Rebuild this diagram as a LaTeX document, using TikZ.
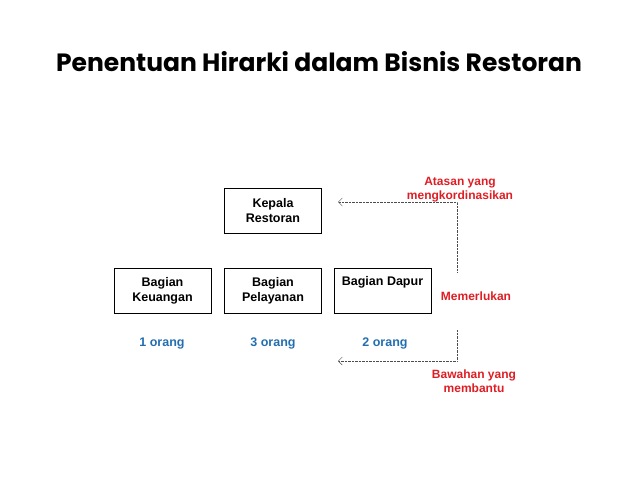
\documentclass[tikz,border=0pt]{standalone}
\usepackage{fontspec}
\setmainfont{Liberation Sans}
\newfontfamily\titlefont{Poppins}
\usetikzlibrary{arrows.meta}
\definecolor{labelred}{RGB}{222,30,36}
\definecolor{labelblue}{RGB}{35,110,175}
\tikzset{
	unit/.style={draw, semithick, minimum width=97pt, minimum height=45pt, align=center, font=\bfseries\fontsize{12.5}{15}\selectfont},
	unittext/.style={align=center, inner sep=0pt, font=\bfseries\fontsize{12.5}{15}\selectfont},
	note/.style={text=labelred, align=center, font=\bfseries\fontsize{12}{14}\selectfont},
	count/.style={text=labelblue, text height=9pt, text depth=3pt, font=\bfseries\fontsize{12.5}{14}\selectfont},
	link/.style={densely dotted, black!70, -{Straight Barb[length=4pt,width=8pt]}}
}
\begin{document}
\begin{tikzpicture}[x=1pt, y=-1pt]
		\useasboundingbox (0,0) rectangle (638,479);
		\node[font=\titlefont\bfseries\fontsize{25}{30}\selectfont] (title) at (319,62) {Penentuan Hirarki dalam Bisnis Restoran};
	
		\node[unit] (kepala) at (273,210.5) {Kepala\\Restoran};
		\node[unit] (keuangan) at (162.5,291) {Bagian\\Keuangan};
		\node[unit] (pelayanan) at (273,291) {Bagian\\Pelayanan};
		\node[unit, text height=0pt] (dapur) at (382.5,291) {};
		\node[unittext, anchor=north] (dapurtext) at (382.5,276) {Bagian Dapur};
		
		\node[count] (satu) at (162,343) {1 orang};
		\node[count] (tiga) at (273,343) {3 orang};
		\node[count] (dua) at (385,343) {2 orang};
		
		\node[note] (atasan) at (460,190) {Atasan yang\\mengkordinasikan};
		\node[note] (perlu) at (476,296) {Memerlukan};
		\node[note] (bawahan) at (474,381) {Bawahan yang\\membantu};
		
		\coordinate (upbend) at (457,202);
		\coordinate (downbend) at (457,361);
		\draw[link] (457,272) -- (upbend) -- (338,202);
		\draw[link] (457,330) -- (downbend) -- (338,361);
	\end{tikzpicture}
\end{document}
